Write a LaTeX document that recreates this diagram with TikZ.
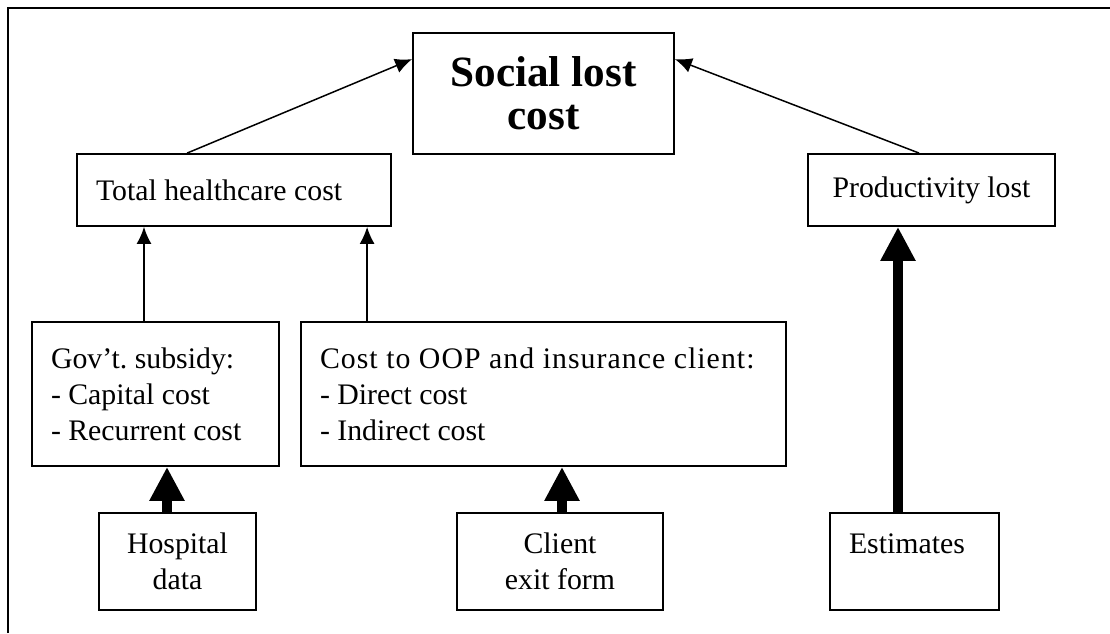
\documentclass[tikz,border=0pt]{standalone}
\usepackage{fontspec}
\setmainfont{Liberation Serif}
\usetikzlibrary{arrows.meta}
\begin{document}
\frenchspacing
\begin{tikzpicture}[x=0.5pt,y=-0.5pt,
  box/.style={draw, line width=0.9pt, inner sep=0pt, font=\fontsize{14.9}{18}\selectfont\frenchspacing},
  lbox/.style={box, align=flush left, inner xsep=9.5pt},
  cbox/.style={box, align=center},
  thinarrow/.style={line width=0.75pt, -{Latex[length=8.5pt,width=7.5pt]}},
  thickarrow/.style={line width=5pt, -{Triangle[length=17pt,width=16.5pt]}},
  frame/.style={line width=1.3pt}]
\useasboundingbox (0,0) rectangle (1110,633);
\draw[frame] (8,633) -- (8,8) -- (1110,8);

\node[cbox, minimum width=130.5pt, minimum height=60.5pt,
      font=\fontsize{21.6}{21.5}\selectfont\bfseries] (social) at (543.5,93.5) {Social lost\\cost};
\node[lbox, text width=138pt, minimum height=36pt] (total) at (234,190) {Total healthcare cost};
\node[cbox, minimum width=123.5pt, minimum height=36pt] (prod) at (931.5,190) {Productivity lost};
\node[lbox, text width=104.5pt, minimum height=72pt] (gov) at (155.5,394) {Gov’t. subsidy:\\- Capital cost\\- Recurrent cost};
\node[lbox, text width=223.5pt, minimum height=72pt] (oop) at (543.5,394) {{\addfontfeature{LetterSpace=3.5}Cost to OOP and insurance client:}\\- Direct cost\\- Indirect cost};
\node[cbox, minimum width=78.5pt, minimum height=48.5pt] (hosp) at (177.5,561.5) {Hospital\\data};
\node[cbox, minimum width=103pt, minimum height=48.5pt] (client) at (560,561.5) {Client\\exit form};
\node[lbox, text width=65.5pt, minimum height=48.5pt] (est) at (914.5,561.5) {Estimates\\\phantom{data}};

\draw[thinarrow] ([xshift=55.5pt]total.north west) -- ([yshift=-13.5pt]social.north west);
\draw[thinarrow] ([xshift=56pt]prod.north west) -- ([yshift=-13.5pt]social.north east);

\coordinate (g1) at ([xshift=-5.75pt]gov.north);
\coordinate (o1) at ([xshift=33.5pt]oop.north west);
\draw[thinarrow] (g1) -- (g1 |- total.south);
\draw[thinarrow] (o1) -- (o1 |- total.south);

\coordinate (h1) at ([xshift=-5.25pt]hosp.north);
\coordinate (c1) at ([xshift=1pt]client.north);
\coordinate (e1) at ([xshift=-8.25pt]est.north);
\draw[thickarrow] (h1) -- (h1 |- gov.south);
\draw[thickarrow] (c1) -- (c1 |- oop.south);
\draw[thickarrow] (e1) -- (e1 |- prod.south);
\end{tikzpicture}
\end{document}
